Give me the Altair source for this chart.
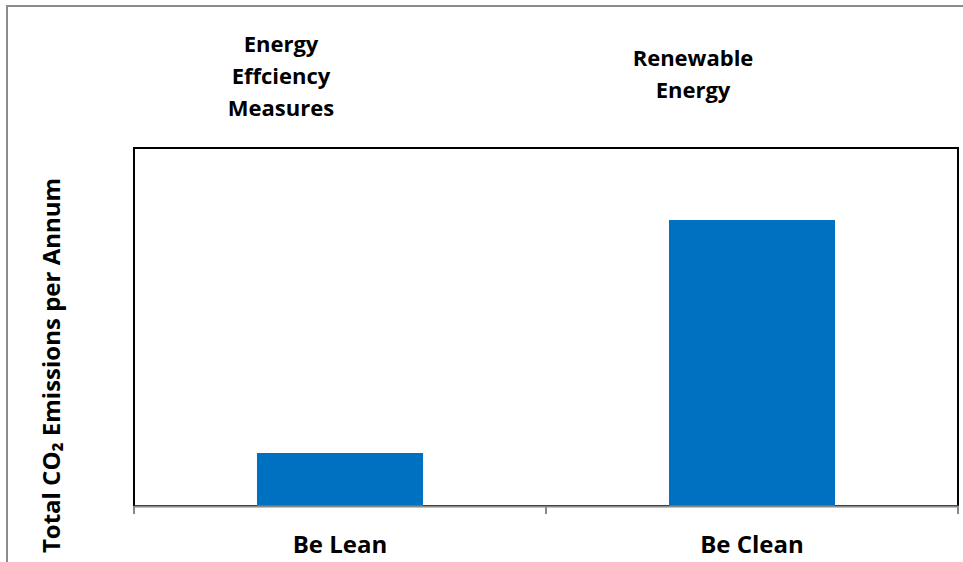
import altair as alt
import pandas as pd

categories = ["Be Lean", "Be Clean"]
values = [53, 286]
annotations = ["Energy\nEffciency\nMeasures", "Renewable\nEnergy"]
y_max = 358

df = pd.DataFrame({"category": categories, "value": values, "note": annotations})

FONT = "Open Sans"
W, H = 824, 358
AXIS_GRAY = "#888888"

x_scale = alt.Scale(paddingInner=0, paddingOuter=0)

x_enc = alt.X(
    "category:N",
    sort=categories,
    scale=x_scale,
    axis=alt.Axis(
        title=None,
        labelFont=FONT,
        labelFontSize=24,
        labelFontWeight="bold",
        labelColor="#000000",
        labelAngle=0,
        labelBaseline="middle",
        labelPadding=39,
        domainColor=AXIS_GRAY,
        domainWidth=2,
        ticks=False,
        zindex=1,
    ),
)

bars = alt.Chart(df).mark_bar(
    color="#0070C0", width=alt.RelativeBandSize(0.403)
).encode(
    x=x_enc,
    y=alt.Y(
        "value:Q",
        scale=alt.Scale(domain=[0, y_max], nice=False),
        axis=alt.Axis(
            title="Total CO₂ Emissions per Annum",
            titleFont=FONT,
            titleFontSize=24,
            titleFontWeight="bold",
            titleColor="#000000",
            titleAngle=270,
            titleAlign="center",
            titleBaseline="middle",
            titleX=-82,
            titleY=217,
            labels=False,
            ticks=False,
            domain=False,
            grid=False,
        ),
    ),
)

# tick marks on band boundaries
ticks_start = alt.Chart(df).mark_rule(color=AXIS_GRAY, strokeWidth=2).encode(
    x=alt.X("category:N", sort=categories, bandPosition=0),
    y=alt.value(H),
    y2=alt.value(H + 8),
)
ticks_end = alt.Chart(df).transform_filter(
    alt.datum.category == categories[-1]
).mark_rule(color=AXIS_GRAY, strokeWidth=2).encode(
    x=alt.X("category:N", sort=categories, bandPosition=1),
    y=alt.value(H),
    y2=alt.value(H + 8),
)


def note_layer(cat, y_first):
    return alt.Chart(df).transform_filter(
        alt.datum.category == cat
    ).mark_text(
        font=FONT,
        fontSize=22,
        fontWeight="bold",
        color="#000000",
        lineBreak="\n",
        lineHeight=32,
        align="center",
        baseline="middle",
        dx=-59,
    ).encode(
        x=alt.X("category:N", sort=categories),
        y=alt.value(y_first),
        text="note:N",
    )


notes_lean = note_layer("Be Lean", -103)
notes_clean = note_layer("Be Clean", -89)

frame = alt.Chart(df).mark_rect(
    fill=None, stroke="#8c8c8c", strokeWidth=2
).encode(
    x=alt.value(-127),
    x2=alt.value(832),
    y=alt.value(-142),
    y2=alt.value(430),
)

chart = alt.layer(
    frame, bars, ticks_start, ticks_end, notes_lean, notes_clean
).properties(
    width=W,
    height=H,
    background="white",
    padding={"left": 134, "top": 148, "right": 5, "bottom": 56},
    autosize=alt.AutoSizeParams(type="none"),
).configure_view(
    stroke="#000000", strokeWidth=2
)

chart.save("out.html", embed_options={"renderer": "svg", "actions": False})
